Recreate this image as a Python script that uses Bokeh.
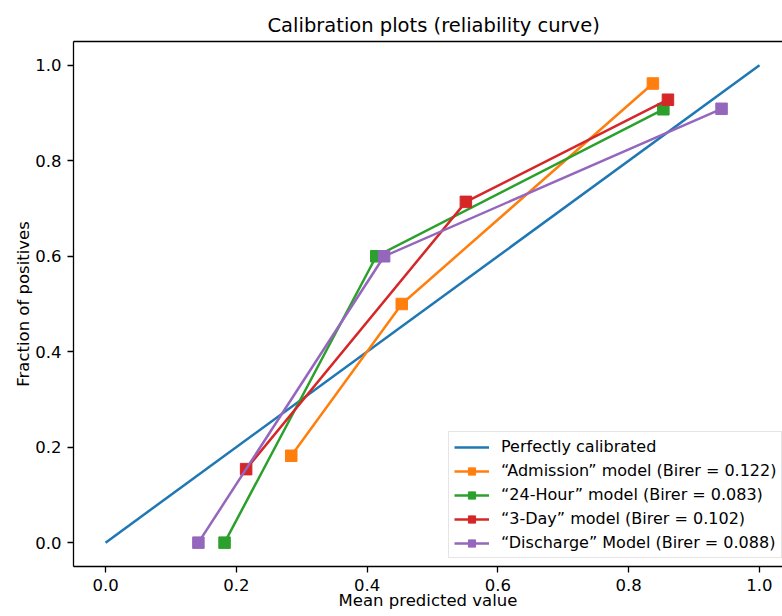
from bokeh.plotting import figure
from bokeh.models import Range1d, FixedTicker, PrintfTickFormatter, Legend, LinearAxis
from bokeh.embed import file_html
from bokeh.resources import INLINE

# ---- data ----
perfect_x = [0.0, 1.0]
perfect_y = [0.0, 1.0]

adm_x = [0.284, 0.453, 0.837]
adm_y = [0.182, 0.500, 0.962]

h24_x = [0.182, 0.414, 0.853]
h24_y = [0.000, 0.600, 0.908]

d3_x = [0.215, 0.551, 0.860]
d3_y = [0.154, 0.714, 0.928]

dis_x = [0.142, 0.426, 0.942]
dis_y = [0.000, 0.600, 0.909]

labels = [
    "Perfectly calibrated",
    "\u201cAdmission\u201d model (Birer = 0.122)",
    "\u201c24-Hour\u201d model (Birer = 0.083)",
    "\u201c3-Day\u201d model (Birer = 0.102)",
    "\u201cDischarge\u201d Model (Birer = 0.088)",
]
tick_vals = [0.0, 0.2, 0.4, 0.6, 0.8, 1.0]

FONT = "DejaVu Sans"

p = figure(
    width=782, height=616,
    output_backend="svg", toolbar_location=None,
    x_range=Range1d(-0.049, 1.0352), y_range=Range1d(-0.05, 1.05),
    min_border_left=73, min_border_right=0, min_border_top=41, min_border_bottom=50,
    title="Calibration plots (reliability curve)",
)
p.outline_line_color = None
p.grid.visible = False

p.title.text_font = FONT
p.title.text_font_size = "19.5px"
p.title.text_font_style = "normal"
p.title.text_color = "black"
p.title.align = "left"
p.title.offset = 194
p.title.standoff = 9

for ax in (p.xaxis[0], p.yaxis[0]):
    ax.ticker = FixedTicker(ticks=tick_vals)
    ax.formatter = PrintfTickFormatter(format="%.1f")
    ax.minor_tick_line_color = None
    ax.major_tick_in = 0
    ax.major_tick_out = 6
    ax.major_tick_line_color = "black"
    ax.major_tick_line_width = 1.3
    ax.axis_line_color = "black"
    ax.axis_line_width = 1.3
    ax.major_label_text_font = FONT
    ax.major_label_text_font_size = "16.5px"
    ax.major_label_text_color = "black"
    ax.axis_label_text_font = FONT
    ax.axis_label_text_font_size = "16.5px"
    ax.axis_label_text_font_style = "normal"
    ax.axis_label_text_color = "black"

p.xaxis.axis_label = "Mean predicted value"
p.yaxis.axis_label = "Fraction of positives"
p.xaxis.major_label_standoff = 6
p.xaxis.axis_label_standoff = -3
p.yaxis.major_label_standoff = 6
p.yaxis.axis_label_standoff = -1

# top frame edge (axis line only)
top_axis = LinearAxis(
    ticker=FixedTicker(ticks=[]),
    major_tick_out=0, major_tick_in=0, minor_tick_out=0, minor_tick_in=0,
    major_label_standoff=0, major_label_text_font_size="0px",
    axis_line_color="black", axis_line_width=1.3,
)
p.add_layout(top_axis, "above")

LW = 2.5
MS = 11.5
r0 = p.line(perfect_x, perfect_y, line_color="#1f77b4", line_width=LW)

series = [
    (adm_x, adm_y, "#ff7f0e"),
    (h24_x, h24_y, "#2ca02c"),
    (d3_x, d3_y, "#d62728"),
    (dis_x, dis_y, "#9467bd"),
]
items = [(labels[0], [r0])]
for i, (xs, ys, c) in enumerate(series):
    ln = p.line(xs, ys, line_color=c, line_width=LW)
    sc = p.scatter(xs, ys, marker="square", size=MS, fill_color=c, line_color=c)
    items.append((labels[i + 1], [ln, sc]))

legend = Legend(
    items=items,
    location=(375, 8),
    label_text_font=FONT,
    label_text_font_size="16px",
    label_text_color="black",
    glyph_width=35,
    glyph_height=18,
    label_height=18,
    label_standoff=12,
    spacing=5,
    padding=5,
    margin=0,
    border_line_color="#cccccc",
    border_line_width=1,
    background_fill_color="white",
    background_fill_alpha=0.8,
)
p.add_layout(legend, "center")

open("out.html", "w").write(file_html(p, INLINE))
